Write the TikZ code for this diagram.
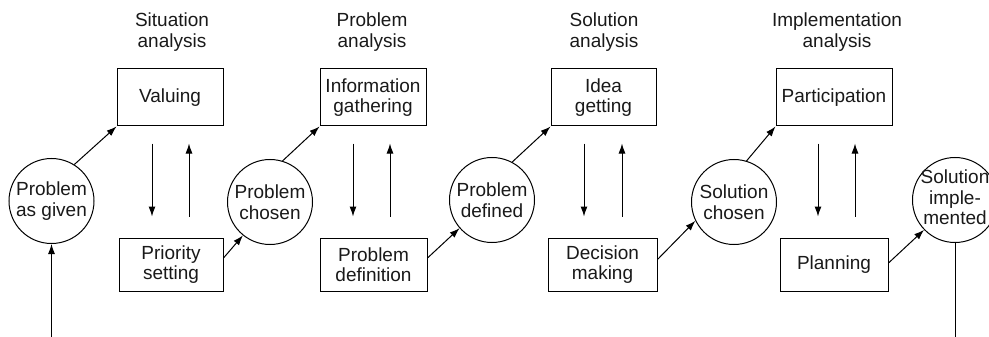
\documentclass[tikz,border=0pt]{standalone}
\usepackage{fontspec}
\setmainfont{Liberation Sans}
\usetikzlibrary{arrows.meta}
\begin{document}
\begin{tikzpicture}[x=1pt,y=-1pt,
  every node/.style={font=\fontsize{19}{20.5}\selectfont, align=center, text=black!90},
  box/.style={draw, line width=1pt, inner sep=0pt},
  circ/.style={draw, circle, line width=1pt, minimum size=85pt, inner sep=0pt},
  arr/.style={-{Latex[length=10pt,width=7pt]}, line width=1pt},
  plain/.style={line width=1pt}]
\useasboundingbox (0,0) rectangle (989,337);
% headers
\node (h1) at (172,32) {Situation\\analysis};
\node (h2) at (372,32) {Problem\\analysis};
\node (h3) at (604,32) {Solution\\analysis};
\node (h4) at (837,32) {Implementation\\analysis};
% top boxes
\node[box, minimum width=106pt, minimum height=57pt] (v1) at (170,97.5) {Valuing};
\node[box, minimum width=106pt, minimum height=57pt] (v2) at (373,97.5) {Information\\gathering};
\node[box, minimum width=105pt, minimum height=57pt] (v3) at (603.5,97.5) {Idea\\getting};
\node[box, minimum width=116pt, minimum height=57pt] (v4) at (834,97.5) {Participation};
% bottom boxes
\node[box, minimum width=104pt, minimum height=53pt] (p1) at (171,264.5) {Priority\\setting};
\node[box, minimum width=107pt, minimum height=53pt] (p2) at (373.5,264.5) {Problem\\definition};
\node[box, minimum width=109pt, minimum height=53pt] (p3) at (602.5,264.5) {Decision\\making};
\node[box, minimum width=108pt, minimum height=53pt] (p4) at (834,264.5) {Planning};
% circles
\node[circ] (c1) at (51.5,201) {Problem\\as given};
\node[circ] (c2) at (270,202) {Problem\\chosen};
\node[circ] (c3) at (492,200) {Problem\\defined};
\node[circ] (c4) at (734,202) {Solution\\chosen};
\node[circ] (c5) at (955,200) {\makebox[0pt]{\begin{tabular}{@{}c@{}}Solution\\imple-\\mented\end{tabular}}};
% vertical arrow pairs
\draw[arr, shorten <=17pt, shorten >=21pt] ([xshift=-18pt]v1.south) -- ([xshift=-18pt]v1.south |- p1.north);
\draw[arr, shorten <=21pt, shorten >=17pt] ([xshift=19pt]v1.south |- p1.north) -- ([xshift=19pt]v1.south);
\draw[arr, shorten <=17pt, shorten >=21pt] ([xshift=-20pt]v2.south) -- ([xshift=-20pt]v2.south |- p2.north);
\draw[arr, shorten <=21pt, shorten >=17pt] ([xshift=17pt]v2.south |- p2.north) -- ([xshift=17pt]v2.south);
\draw[arr, shorten <=17pt, shorten >=21pt] ([xshift=-19.5pt]v3.south) -- ([xshift=-19.5pt]v3.south |- p3.north);
\draw[arr, shorten <=21pt, shorten >=17pt] ([xshift=18.5pt]v3.south |- p3.north) -- ([xshift=18.5pt]v3.south);
\draw[arr, shorten <=17pt, shorten >=21pt] ([xshift=-16pt]v4.south) -- ([xshift=-16pt]v4.south |- p4.north);
\draw[arr, shorten <=21pt, shorten >=17pt] ([xshift=21pt]v4.south |- p4.north) -- ([xshift=21pt]v4.south);
% circle -> top box
\draw[arr] (c1.58) -- (v1.south west);
\draw[arr] (c2.73) -- (v2.south west);
\draw[arr] (c3.62) -- (v3.south west);
\draw[arr] (c4.73) -- (v4.south west);
% bottom box -> circle
\draw[arr] ([yshift=6.5pt]p1.east) -- (c2.231);
\draw[arr] ([yshift=6.5pt]p2.east) -- (c3.221);
\draw[arr] ([yshift=5pt]p3.east) -- (c4.206);
\draw[arr] ([yshift=1.5pt]p4.east) -- (c5.224);
% input and output
\coordinate (in) at (51.5,337);
\coordinate (out) at (955,337);
\draw[arr] (in) -- (c1.south);
\draw[plain] (c5.south) -- (out);
\end{tikzpicture}
\end{document}
